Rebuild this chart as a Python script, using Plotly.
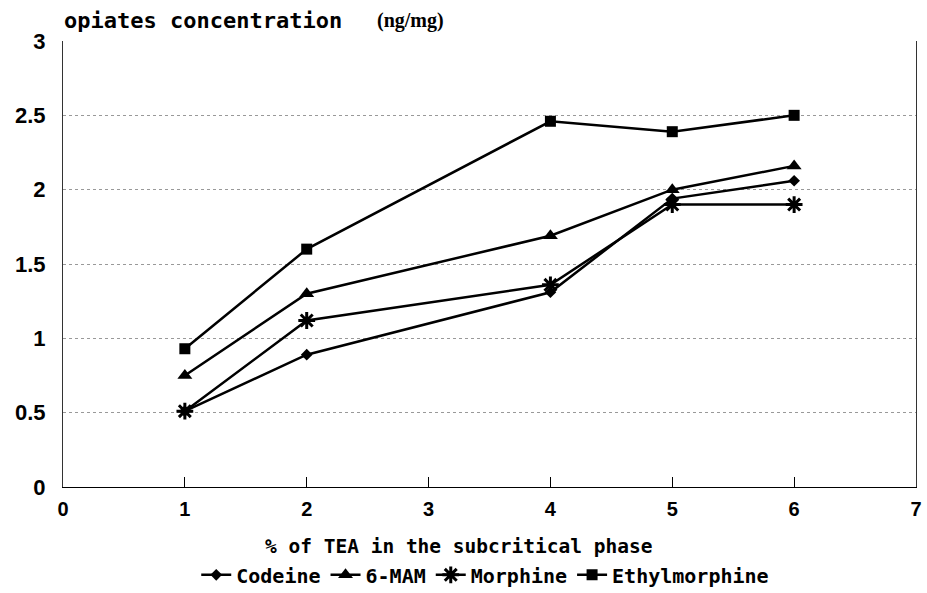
import plotly.graph_objects as go

# % of TEA in the subcritical phase
tea_pct = [1, 2, 4, 5, 6]

# opiate concentrations (ng/mg)
codeine = [0.51, 0.89, 1.31, 1.94, 2.06]
mam6 = [0.75, 1.30, 1.69, 2.00, 2.16]
morphine = [0.51, 1.12, 1.36, 1.90, 1.90]
ethylmorphine = [0.93, 1.60, 2.46, 2.39, 2.50]

x_ticks = [0, 1, 2, 3, 4, 5, 6, 7]
y_ticks = [0, 0.5, 1, 1.5, 2, 2.5, 3]
y_tick_text = ["0", "0.5", "1", "1.5", "2", "2.5", "3"]

MONO = "DejaVu Sans Mono"

series = [
    ("Codeine", codeine, dict(symbol="diamond", size=9)),
    ("6-MAM", mam6, dict(symbol="triangle-up", size=13)),
    ("Morphine", morphine, dict(symbol="asterisk-open", size=14,
                                line=dict(width=3, color="black"))),
    ("Ethylmorphine", ethylmorphine, dict(symbol="square", size=11)),
]

fig = go.Figure()
for name, vals, mk in series:
    marker = dict(color="black")
    marker.update(mk)
    fig.add_trace(go.Scatter(
        x=tea_pct, y=vals, name=name, mode="lines+markers",
        line=dict(color="black", width=2.5),
        marker=marker,
    ))

fig.update_layout(
    width=927, height=593,
    margin=dict(l=63, r=11, t=41, b=106, autoexpand=False),
    paper_bgcolor="white", plot_bgcolor="white",
    showlegend=True,
    legend=dict(
        orientation="h", x=0.495, xanchor="center", y=-0.197, yanchor="middle",
        font=dict(family=MONO, size=20, color="black", weight="bold"),
        itemwidth=30, tracegroupgap=0, bgcolor="rgba(0,0,0,0)",
    ),
    xaxis=dict(
        range=[0, 7.0001], tickvals=x_ticks, showgrid=False, zeroline=False,
        showline=True, linecolor="black", linewidth=1,
        ticks="inside", ticklen=10, tickcolor="black",
        ticklabelstandoff=4,
        tickfont=dict(family="Liberation Sans Narrow, Liberation Sans", size=20,
                      color="black", weight="bold"),
    ),
    yaxis=dict(
        range=[0, 3], tickvals=y_ticks, ticktext=y_tick_text,
        showgrid=True, gridcolor="#999999", griddash="dot", gridwidth=1,
        zeroline=False, showline=True, linecolor="#333333", linewidth=1,
        mirror=True, ticks="", ticklabelstandoff=12,
        tickfont=dict(family="Liberation Sans", size=22, color="black",
                      weight="bold"),
    ),
    annotations=[
        dict(text="opiates concentration", xref="paper", yref="paper",
             x=-0.001, y=1.045, xanchor="left", yanchor="middle",
             showarrow=False,
             font=dict(family=MONO, size=22, color="black", weight="bold")),
        dict(text="(ng/mg)", xref="paper", yref="paper",
             x=0.366, y=1.045, xanchor="left", yanchor="middle",
             showarrow=False,
             font=dict(family="Liberation Serif", size=20, color="black",
                       weight="bold")),
        dict(text="% of TEA in the subcritical phase", xref="paper",
             yref="paper", x=0.4636, y=-0.133, xanchor="center",
             yanchor="middle", showarrow=False,
             font=dict(family=MONO, size=19.5, color="black", weight="bold")),
    ],
)

fig.write_html("out.html")
